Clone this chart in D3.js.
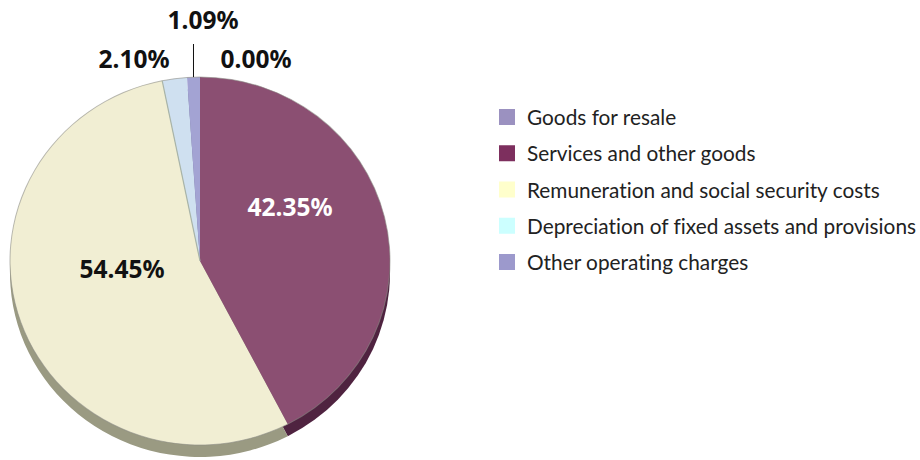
<!DOCTYPE html>
<html>

<head>
    <meta charset="utf-8">
    <style>
        body {
            margin: 0;
            background: white;
        }

        svg {
            display: block;
        }

        .value-label {
            font-family: 'Noto Sans', sans-serif;
            font-weight: 700;
            font-size: 24.5px;
            text-anchor: middle;
        }

        .legend-label {
            font-family: 'Lato', sans-serif;
            font-size: 20.8px;
            font-variant-ligatures: none;
            fill: #222;
        }
    </style>
</head>

<body>
    <svg width="920" height="460"></svg>
</body>

<script src="https://d3js.org/d3.v7.min.js"></script>

<script>

    // values, clockwise from 12 o'clock
    let categories = ["Goods for resale", "Services and other goods", "Remuneration and social security costs", "Depreciation of fixed assets and provisions", "Other operating charges"]
    let shares = [0.00, 42.35, 54.45, 2.10, 1.09]
    let valueLabels = ["0.00%", "42.35%", "54.45%", "2.10%", "1.09%"]

    let legendColors = ["#9b91c0", "#7d2f5e", "#ffffcc", "#ccffff", "#9c99cc"]
    let topColors = ["#9b91c0", "#8b4f72", "#f1eed3", "#cfe0f0", "#a3a3d3"]
    let sideColors = ["#6a6490", "#4f2340", "#9a9a82", "#9aa8b0", "#75759c"]

    let cx = 200
    let cy = 261
    let radius = 190
    let squash = 184 / 190
    let depth = 12

    let svg = d3.select("svg")

    let pie = d3.pie().sort(null).value(d => d)
    let arcs = pie(shares)
    let arc = d3.arc().innerRadius(0).outerRadius(radius)

    // the thick edge: same pie pushed down, darker
    svg.append("g")
        .attr("transform", `translate(${cx},${cy + depth}) scale(1,${squash})`)
        .selectAll("path")
        .data(arcs)
        .join("path")
        .attr("d", arc)
        .style("fill", (d, i) => sideColors[i])

    svg.append("g")
        .attr("transform", `translate(${cx},${cy}) scale(1,${squash})`)
        .selectAll("path")
        .data(arcs)
        .join("path")
        .attr("d", arc)
        .style("fill", (d, i) => topColors[i])

    // outline along the top of the disc
    svg.append("g")
        .attr("transform", `translate(${cx},${cy}) scale(1,${squash})`)
        .selectAll("path")
        .data(arcs)
        .join("path")
        .attr("d", d3.arc().innerRadius(radius - 0.5).outerRadius(radius + 0.5))
        .style("fill", "#8c8c86")
        .style("opacity", 0.6)

    // thin divider beside the depreciation slice
    svg.append("line")
        .attr("x1", cx)
        .attr("y1", cy)
        .attr("x2", cx + radius * Math.sin(arcs[3].startAngle))
        .attr("y2", cy - radius * squash * Math.cos(arcs[3].startAngle))
        .style("stroke", "#a9b4a8")
        .style("stroke-width", 1.2)

    // leader line up to the 1.09% label
    let otherMid = (arcs[4].startAngle + arcs[4].endAngle) / 2
    svg.append("line")
        .attr("x1", cx + radius * Math.sin(otherMid))
        .attr("y1", cy - radius * squash * Math.cos(otherMid))
        .attr("x2", cx + radius * Math.sin(otherMid))
        .attr("y2", 44)
        .style("stroke", "#111")
        .style("stroke-width", 1)

    let labelPos = [[256, 68], [290, 216], [122, 278], [134, 68], [203, 29]]

    svg.append("g")
        .selectAll("text")
        .data(valueLabels)
        .join("text")
        .attr("class", "value-label")
        .attr("x", (d, i) => labelPos[i][0])
        .attr("y", (d, i) => labelPos[i][1])
        .style("fill", (d, i) => i == 1 ? "white" : "#111")
        .text(d => d)

    // legend
    let legendY = d3.scalePoint().domain(categories).range([117, 262])

    let legend = svg.append("g")
        .selectAll("g")
        .data(categories)
        .join("g")
        .attr("transform", d => `translate(499,${legendY(d)})`)

    legend.append("rect")
        .attr("y", -8)
        .attr("width", 16)
        .attr("height", 16)
        .style("fill", (d, i) => legendColors[i])

    legend.append("text")
        .attr("class", "legend-label")
        .attr("x", 28)
        .attr("y", 8)
        .text(d => d)

</script>
</html>
